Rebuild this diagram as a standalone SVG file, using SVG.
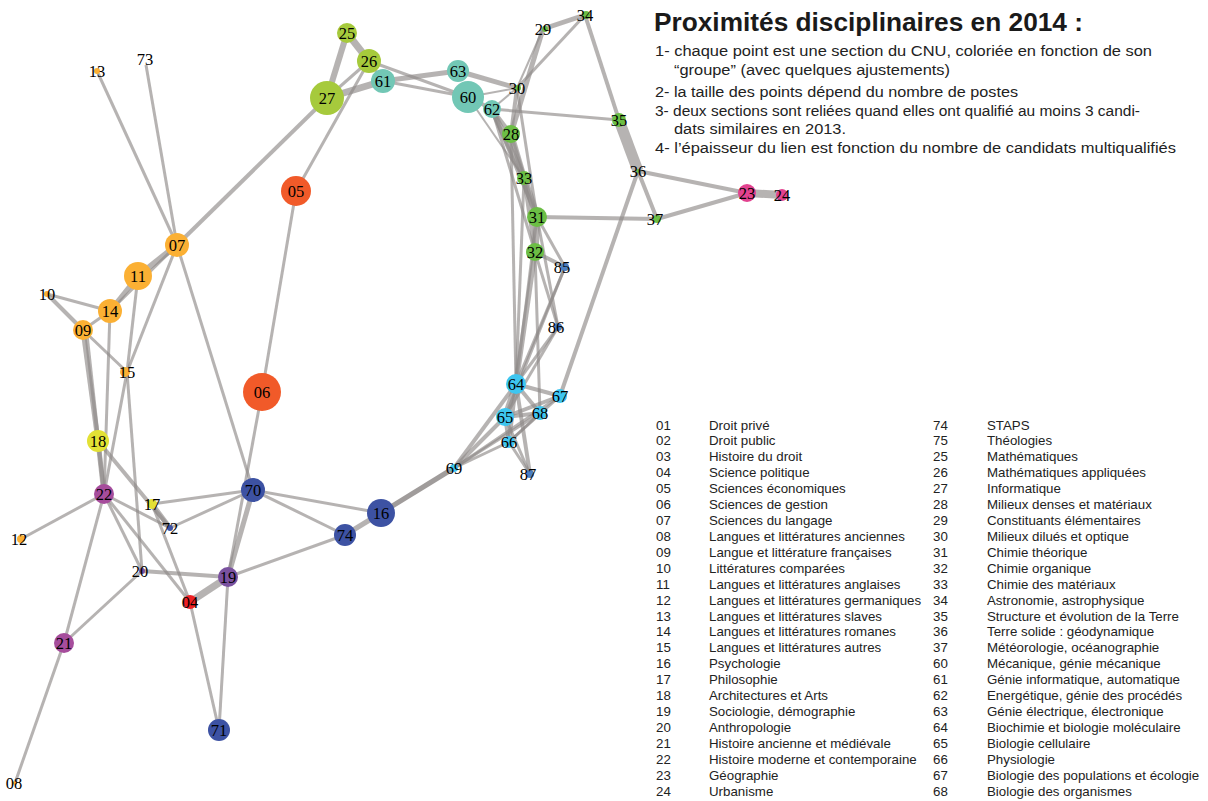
<svg xmlns="http://www.w3.org/2000/svg" width="1208" height="801" viewBox="0 0 1208 801">
<style>
.e{stroke:#8f8b89;stroke-opacity:0.65;fill:none}
.w2{stroke-width:2}.w3{stroke-width:3}.w4{stroke-width:4}.w5{stroke-width:5}.w6{stroke-width:6}.w7{stroke-width:7}.w8{stroke-width:8}.w11{stroke-width:11}
.lb{font-family:"Liberation Serif","DejaVu Serif",serif;font-size:16.5px;text-anchor:middle;fill:#000}
.or{fill:#fbb034}.rd{fill:#f15a29}.li{fill:#a6ca3c}.gr{fill:#6cbe45}.te{fill:#72c7b5}.cy{fill:#3ec6f0}.bl{fill:#4a7ec2}.nv{fill:#3d52a3}.pu{fill:#7a519f}.mg{fill:#a64d9c}.pk{fill:#e2428f}.ye{fill:#e3e135}.re{fill:#ed2024}
.tt{font-family:"Liberation Sans",Arial,sans-serif;font-weight:bold;font-size:26px;fill:#1a1a1a}
.bd{font-family:"Liberation Sans",Arial,sans-serif;font-size:15.5px;fill:#222}
.lg{font-family:"Liberation Sans",Arial,sans-serif;font-size:13.3px;fill:#222}
</style>
<rect width="1208" height="801" fill="#fff"/>
<g id="connectors">
<line class="e w3" x1="97" y1="71" x2="177" y2="245"/>
<line class="e w3" x1="146" y1="65" x2="177" y2="245"/>
<line class="e w4" x1="177" y1="245" x2="327" y2="98"/>
<line class="e w6" x1="177" y1="245" x2="138" y2="276"/>
<line class="e w3" x1="177" y1="245" x2="110" y2="311"/>
<line class="e w3" x1="177" y1="245" x2="127" y2="372"/>
<line class="e w3" x1="177" y1="245" x2="253" y2="490"/>
<line class="e w5" x1="138" y1="276" x2="110" y2="311"/>
<line class="e w3" x1="138" y1="276" x2="127" y2="372"/>
<line class="e w3" x1="47" y1="294" x2="110" y2="311"/>
<line class="e w4" x1="47" y1="294" x2="83" y2="330"/>
<line class="e w3" x1="83" y1="330" x2="110" y2="311"/>
<line class="e w3" x1="83" y1="330" x2="127" y2="372"/>
<line class="e w5" x1="83" y1="330" x2="98" y2="441"/>
<line class="e w4" x1="86" y1="330" x2="104" y2="494"/>
<line class="e w3" x1="110" y1="311" x2="104" y2="494"/>
<line class="e w3" x1="127" y1="372" x2="104" y2="494"/>
<line class="e w3" x1="127" y1="372" x2="142" y2="571"/>
<line class="e w5" x1="98" y1="441" x2="104" y2="494"/>
<line class="e w4" x1="98" y1="441" x2="170" y2="528"/>
<line class="e w5" x1="152" y1="504" x2="170" y2="528"/>
<line class="e w3" x1="104" y1="494" x2="21" y2="539"/>
<line class="e w3" x1="104" y1="494" x2="64" y2="643"/>
<line class="e w3" x1="104" y1="494" x2="170" y2="528"/>
<line class="e w3" x1="104" y1="494" x2="190" y2="602"/>
<line class="e w3" x1="104" y1="494" x2="142" y2="571"/>
<line class="e w3" x1="152" y1="504" x2="190" y2="602"/>
<line class="e w3" x1="152" y1="504" x2="253" y2="490"/>
<line class="e w3" x1="170" y1="528" x2="253" y2="490"/>
<line class="e w4" x1="142" y1="571" x2="228" y2="577"/>
<line class="e w3" x1="142" y1="571" x2="64" y2="643"/>
<line class="e w3" x1="64" y1="643" x2="15" y2="783"/>
<line class="e w7" x1="190" y1="602" x2="228" y2="577"/>
<line class="e w3" x1="190" y1="602" x2="219" y2="730"/>
<line class="e w3" x1="228" y1="577" x2="219" y2="730"/>
<line class="e w5" x1="253" y1="490" x2="228" y2="577"/>
<line class="e w3" x1="262" y1="392" x2="228" y2="577"/>
<line class="e w3" x1="262" y1="392" x2="296" y2="191"/>
<line class="e w3" x1="296" y1="191" x2="369" y2="61"/>
<line class="e w3" x1="228" y1="577" x2="345" y2="535"/>
<line class="e w3" x1="253" y1="490" x2="381" y2="513"/>
<line class="e w3" x1="253" y1="490" x2="345" y2="535"/>
<line class="e w5" x1="345" y1="535" x2="381" y2="513"/>
<line class="e w5" x1="381" y1="513" x2="454" y2="468" style="stroke-opacity:0.85"/>
<line class="e w6" x1="347" y1="33" x2="327" y2="98"/>
<line class="e w7" x1="347" y1="33" x2="369" y2="61"/>
<line class="e w3" x1="369" y1="61" x2="327" y2="98"/>
<line class="e w7" x1="327" y1="98" x2="383" y2="81"/>
<line class="e w3" x1="369" y1="61" x2="383" y2="81"/>
<line class="e w3" x1="369" y1="61" x2="468" y2="97"/>
<line class="e w5" x1="383" y1="81" x2="458" y2="71"/>
<line class="e w3" x1="383" y1="81" x2="468" y2="97"/>
<line class="e w5" x1="458" y1="71" x2="517" y2="88"/>
<line class="e w2" x1="468" y1="97" x2="517" y2="88"/>
<line class="e w4" x1="468" y1="97" x2="492" y2="109"/>
<line class="e w2" x1="492" y1="109" x2="517" y2="88"/>
<line class="e w3" x1="492" y1="109" x2="619" y2="120"/>
<line class="e w2" x1="468" y1="97" x2="524" y2="178"/>
<line class="e w5" x1="511" y1="134" x2="543" y2="29"/>
<line class="e w4" x1="511" y1="134" x2="517" y2="88"/>
<line class="e w3" x1="517" y1="88" x2="585" y2="15"/>
<line class="e w2" x1="517" y1="88" x2="543" y2="29"/>
<line class="e w5" x1="543" y1="29" x2="585" y2="15"/>
<line class="e w3" x1="517" y1="88" x2="537" y2="217"/>
<line class="e w4" x1="585" y1="15" x2="619" y2="120"/>
<line class="e w11" x1="619" y1="120" x2="638" y2="171"/>
<line class="e w4" x1="638" y1="171" x2="657" y2="219"/>
<line class="e w4" x1="638" y1="171" x2="747" y2="193"/>
<line class="e w4" x1="657" y1="219" x2="747" y2="193"/>
<line class="e w8" x1="747" y1="193" x2="782" y2="195"/>
<line class="e w4" x1="537" y1="217" x2="657" y2="219"/>
<line class="e w4" x1="638" y1="171" x2="560" y2="396"/>
<line class="e w4" x1="492" y1="109" x2="511" y2="134"/>
<line class="e w6" x1="492" y1="109" x2="524" y2="178"/>
<line class="e w4" x1="492" y1="109" x2="537" y2="217"/>
<line class="e w3" x1="492" y1="109" x2="535" y2="252"/>
<line class="e w6" x1="511" y1="134" x2="524" y2="178"/>
<line class="e w3" x1="511" y1="134" x2="537" y2="217"/>
<line class="e w7" x1="524" y1="178" x2="537" y2="217"/>
<line class="e w7" x1="537" y1="217" x2="535" y2="252"/>
<line class="e w4" x1="524" y1="178" x2="535" y2="252"/>
<line class="e w3" x1="511" y1="134" x2="516" y2="384"/>
<line class="e w3" x1="537" y1="217" x2="565" y2="267"/>
<line class="e w4" x1="535" y1="252" x2="565" y2="267"/>
<line class="e w3" x1="537" y1="217" x2="558" y2="327"/>
<line class="e w3" x1="535" y1="252" x2="558" y2="327"/>
<line class="e w5" x1="535" y1="252" x2="516" y2="384"/>
<line class="e w3" x1="537" y1="217" x2="516" y2="384"/>
<line class="e w3" x1="524" y1="178" x2="516" y2="384"/>
<line class="e w3" x1="535" y1="252" x2="540" y2="413"/>
<line class="e w3" x1="565" y1="267" x2="516" y2="384"/>
<line class="e w3" x1="558" y1="327" x2="516" y2="384"/>
<line class="e w3" x1="565" y1="267" x2="505" y2="417"/>
<line class="e w3" x1="558" y1="327" x2="505" y2="417"/>
<line class="e w6" x1="516" y1="384" x2="505" y2="417"/>
<line class="e w4" x1="516" y1="384" x2="560" y2="396"/>
<line class="e w4" x1="516" y1="384" x2="540" y2="413"/>
<line class="e w4" x1="505" y1="417" x2="540" y2="413"/>
<line class="e w4" x1="505" y1="417" x2="560" y2="396"/>
<line class="e w3" x1="509" y1="442" x2="540" y2="413"/>
<line class="e w3" x1="509" y1="442" x2="560" y2="396"/>
<line class="e w4" x1="505" y1="417" x2="509" y2="442"/>
<line class="e w4" x1="516" y1="384" x2="509" y2="442"/>
<line class="e w4" x1="516" y1="384" x2="530" y2="474"/>
<line class="e w3" x1="505" y1="417" x2="530" y2="474"/>
<line class="e w3" x1="509" y1="442" x2="530" y2="474"/>
<line class="e w4" x1="454" y1="468" x2="516" y2="384"/>
<line class="e w4" x1="454" y1="468" x2="505" y2="417"/>
<line class="e w3" x1="454" y1="468" x2="509" y2="442"/>
<line class="e w3" x1="454" y1="468" x2="540" y2="413"/>
<line class="e w3" x1="454" y1="468" x2="560" y2="396"/>
</g>
<g id="n13"><circle class="or" cx="97" cy="71" r="3"/><text class="lb" x="97" y="77">13</text></g>
<g id="n73"><text class="lb" x="145" y="65">73</text></g>
<g id="n07"><circle class="or" cx="177" cy="245" r="12"/><text class="lb" x="177" y="251">07</text></g>
<g id="n11"><circle class="or" cx="138" cy="276" r="14"/><text class="lb" x="138" y="282">11</text></g>
<g id="n10"><circle class="or" cx="47" cy="294" r="3"/><text class="lb" x="47" y="300">10</text></g>
<g id="n14"><circle class="or" cx="110" cy="311" r="12"/><text class="lb" x="110" y="317">14</text></g>
<g id="n09"><circle class="or" cx="83" cy="330" r="10"/><text class="lb" x="83" y="336">09</text></g>
<g id="n15"><circle class="or" cx="125" cy="372" r="5"/><text class="lb" x="127" y="378">15</text></g>
<g id="n12"><circle class="or" cx="21" cy="539" r="4"/><text class="lb" x="19" y="545">12</text></g>
<g id="n08"><circle class="or" cx="15" cy="783" r="2"/><text class="lb" x="14" y="789">08</text></g>
<g id="n05"><circle class="rd" cx="296" cy="191" r="15"/><text class="lb" x="296" y="197">05</text></g>
<g id="n06"><circle class="rd" cx="262" cy="392" r="19"/><text class="lb" x="262" y="398">06</text></g>
<g id="n25"><circle class="li" cx="347" cy="33" r="10"/><text class="lb" x="347" y="39">25</text></g>
<g id="n26"><circle class="li" cx="369" cy="61" r="12"/><text class="lb" x="369" y="67">26</text></g>
<g id="n27"><circle class="li" cx="327" cy="98" r="17"/><text class="lb" x="327" y="104">27</text></g>
<g id="n61"><circle class="te" cx="383" cy="81" r="12"/><text class="lb" x="383" y="87">61</text></g>
<g id="n63"><circle class="te" cx="458" cy="71" r="11"/><text class="lb" x="458" y="77">63</text></g>
<g id="n60"><circle class="te" cx="468" cy="97" r="16"/><text class="lb" x="468" y="103">60</text></g>
<g id="n62"><circle class="te" cx="492" cy="109" r="9"/><text class="lb" x="492" y="115">62</text></g>
<g id="n30"><circle class="gr" cx="518" cy="88" r="3"/><text class="lb" x="517" y="94">30</text></g>
<g id="n29"><circle class="gr" cx="545" cy="29" r="3"/><text class="lb" x="543" y="35">29</text></g>
<g id="n34"><circle class="gr" cx="586" cy="15" r="4"/><text class="lb" x="585" y="21">34</text></g>
<g id="n28"><circle class="gr" cx="511" cy="134" r="9"/><text class="lb" x="511" y="140">28</text></g>
<g id="n35"><circle class="gr" cx="619" cy="120" r="7"/><text class="lb" x="619" y="126">35</text></g>
<g id="n36"><circle class="gr" cx="638" cy="171" r="2"/><text class="lb" x="638" y="177">36</text></g>
<g id="n37"><circle class="gr" cx="657" cy="219" r="4"/><text class="lb" x="655" y="225">37</text></g>
<g id="n23"><circle class="pk" cx="747" cy="193" r="9"/><text class="lb" x="747" y="199">23</text></g>
<g id="n24"><circle class="pk" cx="782" cy="195" r="6"/><text class="lb" x="782" y="201">24</text></g>
<g id="n33"><circle class="gr" cx="524" cy="178" r="7"/><text class="lb" x="524" y="184">33</text></g>
<g id="n31"><circle class="gr" cx="537" cy="217" r="10"/><text class="lb" x="537" y="223">31</text></g>
<g id="n32"><circle class="gr" cx="535" cy="252" r="9"/><text class="lb" x="535" y="258">32</text></g>
<g id="n85"><circle class="bl" cx="565" cy="267" r="4"/><text class="lb" x="562" y="273">85</text></g>
<g id="n86"><circle class="bl" cx="558" cy="327" r="4"/><text class="lb" x="556" y="333">86</text></g>
<g id="n64"><circle class="cy" cx="516" cy="384" r="10"/><text class="lb" x="516" y="390">64</text></g>
<g id="n67"><circle class="cy" cx="560" cy="396" r="7"/><text class="lb" x="560" y="402">67</text></g>
<g id="n65"><circle class="cy" cx="505" cy="417" r="9"/><text class="lb" x="505" y="423">65</text></g>
<g id="n68"><circle class="cy" cx="540" cy="413" r="7"/><text class="lb" x="540" y="419">68</text></g>
<g id="n66"><circle class="cy" cx="509" cy="442" r="6"/><text class="lb" x="509" y="448">66</text></g>
<g id="n87"><circle class="bl" cx="530" cy="474" r="4"/><text class="lb" x="528" y="480">87</text></g>
<g id="n69"><circle class="cy" cx="454" cy="468" r="4"/><text class="lb" x="454" y="474">69</text></g>
<g id="n16"><circle class="nv" cx="381" cy="513" r="14"/><text class="lb" x="381" y="519">16</text></g>
<g id="n74"><circle class="nv" cx="345" cy="535" r="11"/><text class="lb" x="345" y="541">74</text></g>
<g id="n70"><circle class="nv" cx="253" cy="490" r="12"/><text class="lb" x="253" y="496">70</text></g>
<g id="n19"><circle class="pu" cx="228" cy="577" r="10"/><text class="lb" x="228" y="583">19</text></g>
<g id="n04"><circle class="re" cx="190" cy="602" r="7"/><text class="lb" x="190" y="608">04</text></g>
<g id="n20"><circle class="pu" cx="142" cy="571" r="3"/><text class="lb" x="140" y="577">20</text></g>
<g id="n71"><circle class="nv" cx="219" cy="730" r="11"/><text class="lb" x="219" y="736">71</text></g>
<g id="n17"><circle class="ye" cx="152" cy="504" r="5"/><text class="lb" x="152" y="510">17</text></g>
<g id="n72"><circle class="nv" cx="170" cy="528" r="3"/><text class="lb" x="170" y="534">72</text></g>
<g id="n18"><circle class="ye" cx="98" cy="441" r="11"/><text class="lb" x="98" y="447">18</text></g>
<g id="n22"><circle class="mg" cx="104" cy="494" r="10"/><text class="lb" x="104" y="500">22</text></g>
<g id="n21"><circle class="mg" cx="64" cy="643" r="10"/><text class="lb" x="64" y="649">21</text></g>
<g id="title">
<text class="tt" x="654" y="31" textLength="429" lengthAdjust="spacingAndGlyphs">Proximités disciplinaires en 2014 :</text>
<text class="bd" x="655" y="56" textLength="497" lengthAdjust="spacingAndGlyphs">1- chaque point est une section du CNU, coloriée en fonction de son</text>
<text class="bd" x="674" y="75" textLength="276" lengthAdjust="spacingAndGlyphs">“groupe” (avec quelques ajustements)</text>
<text class="bd" x="655" y="97" textLength="363" lengthAdjust="spacingAndGlyphs">2- la taille des points dépend du nombre de postes</text>
<text class="bd" x="655" y="116" textLength="485" lengthAdjust="spacingAndGlyphs">3- deux sections sont reliées quand elles ont qualifié au moins 3 candi-</text>
<text class="bd" x="674" y="134" textLength="172" lengthAdjust="spacingAndGlyphs">dats similaires en 2013.</text>
<text class="bd" x="655" y="153" textLength="521" lengthAdjust="spacingAndGlyphs">4- l’épaisseur du lien est fonction du nombre de candidats multiqualifiés</text>
</g>
<g id="legend" class="lg">
<text x="656" y="429.5">01</text><text x="709" y="429.5">Droit privé</text>
<text x="656" y="445.4">02</text><text x="709" y="445.4">Droit public</text>
<text x="656" y="461.3">03</text><text x="709" y="461.3">Histoire du droit</text>
<text x="656" y="477.2">04</text><text x="709" y="477.2">Science politique</text>
<text x="656" y="493.2">05</text><text x="709" y="493.2">Sciences économiques</text>
<text x="656" y="509.1">06</text><text x="709" y="509.1">Sciences de gestion</text>
<text x="656" y="525">07</text><text x="709" y="525">Sciences du langage</text>
<text x="656" y="540.9">08</text><text x="709" y="540.9">Langues et littératures anciennes</text>
<text x="656" y="556.8">09</text><text x="709" y="556.8">Langue et littérature françaises</text>
<text x="656" y="572.7">10</text><text x="709" y="572.7">Littératures comparées</text>
<text x="656" y="588.6">11</text><text x="709" y="588.6">Langues et littératures anglaises</text>
<text x="656" y="604.5">12</text><text x="709" y="604.5">Langues et littératures germaniques</text>
<text x="656" y="620.5">13</text><text x="709" y="620.5">Langues et littératures slaves</text>
<text x="656" y="636.4">14</text><text x="709" y="636.4">Langues et littératures romanes</text>
<text x="656" y="652.3">15</text><text x="709" y="652.3">Langues et littératures autres</text>
<text x="656" y="668.2">16</text><text x="709" y="668.2">Psychologie</text>
<text x="656" y="684.1">17</text><text x="709" y="684.1">Philosophie</text>
<text x="656" y="700">18</text><text x="709" y="700">Architectures et Arts</text>
<text x="656" y="715.9">19</text><text x="709" y="715.9">Sociologie, démographie</text>
<text x="656" y="731.8">20</text><text x="709" y="731.8">Anthropologie</text>
<text x="656" y="747.8">21</text><text x="709" y="747.8">Histoire ancienne et médiévale</text>
<text x="656" y="763.7">22</text><text x="709" y="763.7">Histoire moderne et contemporaine</text>
<text x="656" y="779.6">23</text><text x="709" y="779.6">Géographie</text>
<text x="656" y="795.5">24</text><text x="709" y="795.5">Urbanisme</text>
<text x="933" y="429.5">74</text><text x="987" y="429.5">STAPS</text>
<text x="933" y="445.4">75</text><text x="987" y="445.4">Théologies</text>
<text x="933" y="461.3">25</text><text x="987" y="461.3">Mathématiques</text>
<text x="933" y="477.2">26</text><text x="987" y="477.2">Mathématiques appliquées</text>
<text x="933" y="493.2">27</text><text x="987" y="493.2">Informatique</text>
<text x="933" y="509.1">28</text><text x="987" y="509.1">Milieux denses et matériaux</text>
<text x="933" y="525">29</text><text x="987" y="525">Constituants élémentaires</text>
<text x="933" y="540.9">30</text><text x="987" y="540.9">Milieux dilués et optique</text>
<text x="933" y="556.8">31</text><text x="987" y="556.8">Chimie théorique</text>
<text x="933" y="572.7">32</text><text x="987" y="572.7">Chimie organique</text>
<text x="933" y="588.6">33</text><text x="987" y="588.6">Chimie des matériaux</text>
<text x="933" y="604.5">34</text><text x="987" y="604.5">Astronomie, astrophysique</text>
<text x="933" y="620.5">35</text><text x="987" y="620.5">Structure et évolution de la Terre</text>
<text x="933" y="636.4">36</text><text x="987" y="636.4">Terre solide : géodynamique</text>
<text x="933" y="652.3">37</text><text x="987" y="652.3">Météorologie, océanographie</text>
<text x="933" y="668.2">60</text><text x="987" y="668.2">Mécanique, génie mécanique</text>
<text x="933" y="684.1">61</text><text x="987" y="684.1">Génie informatique, automatique</text>
<text x="933" y="700">62</text><text x="987" y="700">Energétique, génie des procédés</text>
<text x="933" y="715.9">63</text><text x="987" y="715.9">Génie électrique, électronique</text>
<text x="933" y="731.8">64</text><text x="987" y="731.8">Biochimie et biologie moléculaire</text>
<text x="933" y="747.8">65</text><text x="987" y="747.8">Biologie cellulaire</text>
<text x="933" y="763.7">66</text><text x="987" y="763.7">Physiologie</text>
<text x="933" y="779.6">67</text><text x="987" y="779.6">Biologie des populations et écologie</text>
<text x="933" y="795.5">68</text><text x="987" y="795.5">Biologie des organismes</text>
</g>
</svg>
